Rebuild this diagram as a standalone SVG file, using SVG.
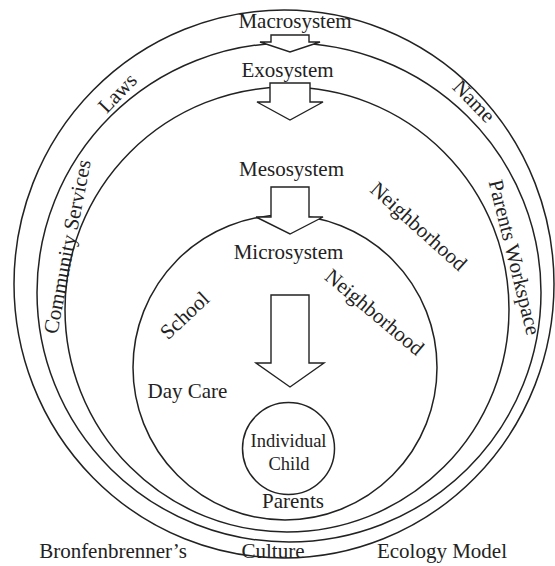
<svg xmlns="http://www.w3.org/2000/svg" width="555" height="566" viewBox="0 0 555 566">
<style>
.ring{fill:none;stroke:#222;stroke-width:1.5}
.arrow{fill:#fff;stroke:#222;stroke-width:1.4;stroke-linejoin:miter}
text{font-family:"Liberation Serif","Times New Roman",serif;font-size:21px;fill:#222;text-anchor:middle}
.sm{font-size:18.5px}
</style>
<rect width="555" height="566" fill="#fff"/>
<g id="macrosystem">
<ellipse class="ring" cx="284" cy="284" rx="270" ry="274"/>
<text x="295" y="28">Macrosystem</text>
<text transform="translate(122.5 97.8) rotate(-46)">Laws</text>
<text transform="translate(469 106) rotate(46)">Name</text>
<text x="273" y="558">Culture</text>
</g>
<g id="exosystem">
<ellipse class="ring" cx="289" cy="292.5" rx="252" ry="249.5"/>
<text x="287.5" y="77">Exosystem</text>
<text transform="translate(74 248) rotate(-79)">Community Services</text>
<text transform="translate(507.7 259) rotate(76)">Parents Workspace</text>
</g>
<g id="mesosystem">
<ellipse class="ring" cx="287" cy="309.5" rx="222" ry="222.5"/>
<text x="291.5" y="176">Mesosystem</text>
<text transform="translate(414 231.5) rotate(42)">Neighborhood</text>
</g>
<g id="microsystem">
<ellipse class="ring" cx="285" cy="367.5" rx="152" ry="152.5"/>
<text x="288.5" y="259">Microsystem</text>
<text transform="translate(189.4 320.5) rotate(-43)">School</text>
<text transform="translate(370 317.5) rotate(40)">Neighborhood</text>
<text x="187.5" y="398">Day Care</text>
<text x="293" y="508">Parents</text>
</g>
<g id="individual-child">
<circle class="ring" cx="288.5" cy="448.5" r="46"/>
<text class="sm" x="288.5" y="447">Individual</text>
<text class="sm" x="289" y="470">Child</text>
</g>
<g id="connectors">
<polygon class="arrow" points="271,35 309,35 309,42 320,42 290,52 260,42 271,42"/>
<polygon class="arrow" points="270,83 310,83 310,102 323,102 290,120 257,102 270,102"/>
<polygon class="arrow" points="271,187 309,187 309,217 323,217 290,234 256,217 271,217"/>
<polygon class="arrow" points="271,295 309,295 309,363 324,363 290,387 256,363 271,363"/>
</g>
<g id="caption">
<text x="113" y="558">Bronfenbrenner’s</text>
<text x="442" y="558">Ecology Model</text>
</g>
</svg>
